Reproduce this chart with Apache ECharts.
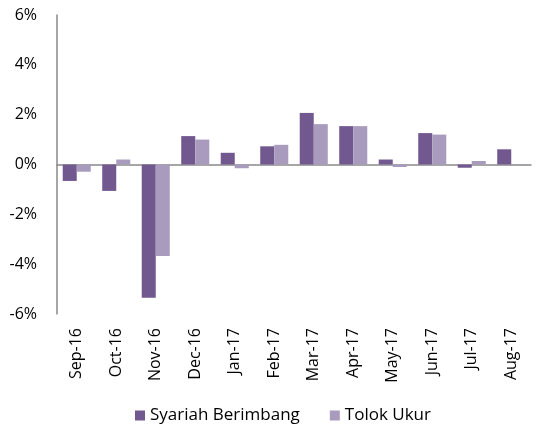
<!DOCTYPE html>
<html>
<head>
<meta charset="utf-8">
<script src="https://cdn.jsdelivr.net/npm/echarts@6/dist/echarts.min.js"></script>
<style>
  html, body { margin: 0; padding: 0; background: #fff; }
  #chart { width: 538px; height: 430px; }
</style>
</head>
<body>
<div id="chart"></div>
<script>
const months = ['Sep-16', 'Oct-16', 'Nov-16', 'Dec-16', 'Jan-17', 'Feb-17',
  'Mar-17', 'Apr-17', 'May-17', 'Jun-17', 'Jul-17', 'Aug-17'];
const syariahBerimbang = [-0.66, -1.06, -5.35, 1.14, 0.47, 0.73, 2.07, 1.54, 0.2, 1.26, -0.13, 0.61];
const tolokUkur = [-0.29, 0.2, -3.67, 1.0, -0.15, 0.79, 1.62, 1.54, -0.1, 1.2, 0.14, 0.02];
const yTicks = [-6, -4, -2, 0, 2, 4, 6];

const font = 'Open Sans';
const chart = echarts.init(document.getElementById('chart'));

chart.setOption({
  animation: false,
  textStyle: { fontFamily: font },
  grid: { left: 57, right: 7, top: 15, bottom: 116 },
  legend: {
    bottom: 1,
    left: 130,
    itemWidth: 10,
    itemHeight: 10,
    itemGap: 30,
    icon: 'rect',
    textStyle: { fontFamily: font, fontSize: 17, color: '#000' },
    data: ['Syariah Berimbang', 'Tolok Ukur']
  },
  xAxis: [{
    type: 'category',
    data: months,
    axisLine: { onZero: true, lineStyle: { color: '#898989', width: 1.5 } },
    axisTick: { show: false },
    axisLabel: { show: false }
  }, {
    type: 'category',
    data: months,
    position: 'bottom',
    axisLine: { show: false, onZero: false },
    axisTick: { show: false },
    axisLabel: {
      rotate: 90,
      margin: 14,
      fontFamily: font,
      fontSize: 16,
      color: '#000'
    }
  }],
  yAxis: {
    type: 'value',
    min: yTicks[0],
    max: yTicks[yTicks.length - 1],
    interval: 2,
    axisLine: { show: true, lineStyle: { color: '#898989', width: 1.5 } },
    axisTick: { show: false },
    splitLine: { show: false },
    axisLabel: {
      margin: 20,
      fontFamily: font,
      fontSize: 16,
      color: '#000',
      formatter: (v) => v + '%'
    }
  },
  series: [{
    name: 'Syariah Berimbang',
    type: 'bar',
    data: syariahBerimbang,
    barGap: '0%',
    barCategoryGap: '29%',
    itemStyle: { color: '#71588F' }
  }, {
    name: 'Tolok Ukur',
    type: 'bar',
    data: tolokUkur,
    barGap: '0%',
    barCategoryGap: '29%',
    itemStyle: { color: '#A99BBD' }
  }]
});
</script>
</body>
</html>
